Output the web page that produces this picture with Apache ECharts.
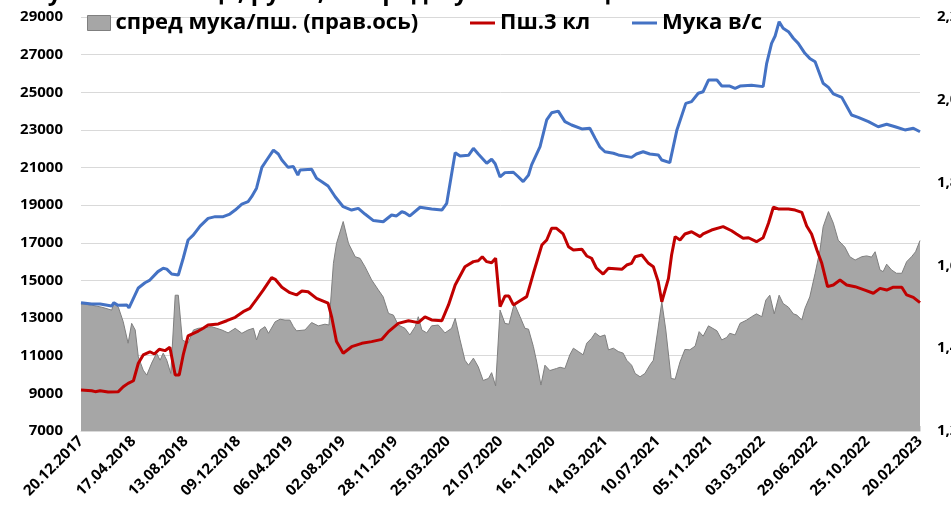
<!DOCTYPE html>
<html>
<head>
<meta charset="utf-8">
<script src="https://cdn.jsdelivr.net/npm/echarts@6/dist/echarts.min.js"></script>
<style>
  html, body { margin: 0; padding: 0; background: #fff; }
  #chart { width: 951px; height: 531px; }
</style>
</head>
<body>
<div id="chart"></div>
<script>
// x values are days since 20.12.2017
const flourDays = [0, 24, 43, 69, 74, 83, 103, 108, 129, 144, 155, 173, 185, 193, 204, 219, 230, 241, 253, 268,
  286, 302, 320, 335, 347, 362, 376, 384, 395, 407, 418, 433, 444, 452, 466, 478, 488, 493, 519, 530,
  542, 556, 572, 590, 609, 624, 639, 658, 680, 699, 710, 722, 729, 740, 763, 789, 812, 823, 842, 853,
  872, 883, 894, 913, 924, 932, 943, 954, 973, 984, 995, 1007, 1014, 1033, 1048, 1059, 1074, 1089, 1104, 1127,
  1145, 1157, 1168, 1179, 1198, 1209, 1239, 1250, 1265, 1280, 1299, 1307, 1325, 1341, 1361, 1374, 1389, 1400, 1412, 1431,
  1442, 1460, 1472, 1483, 1509, 1535, 1543, 1554, 1562, 1571, 1580, 1592, 1603, 1614, 1629, 1640, 1652, 1670, 1682, 1693,
  1712, 1734, 1749, 1772, 1794, 1813, 1832, 1854, 1873, 1888];
const flourPrice = [13820, 13750, 13750, 13640, 13820, 13680, 13700, 13540, 14600, 14880, 15020, 15470, 15650, 15600, 15340, 15290, 16180, 17150, 17420, 17890,
  18300, 18390, 18390, 18530, 18740, 19060, 19190, 19450, 19900, 21010, 21400, 21930, 21720, 21400, 21010, 21050, 20600, 20870, 20910, 20430,
  20250, 20020, 19450, 18920, 18740, 18830, 18530, 18180, 18120, 18480, 18430, 18650, 18600, 18430, 18890, 18800, 18740, 19100, 21790, 21610,
  21650, 22020, 21720, 21230, 21440, 21200, 20500, 20730, 20750, 20510, 20250, 20600, 21140, 22110, 23530, 23910, 24000, 23440, 23260, 23050,
  23090, 22550, 22080, 21840, 21760, 21670, 21540, 21720, 21840, 21720, 21670, 21400, 21260, 23000, 24410, 24500, 24950, 25030, 25650, 25650,
  25330, 25330, 25210, 25330, 25370, 25300, 26540, 27600, 27990, 28750, 28400, 28220, 27870, 27600, 27070, 26800, 26620, 25480, 25260, 24910,
  24730, 23790, 23670, 23440, 23170, 23300, 23170, 23000, 23090, 22900];

const wheatDays = [0, 24, 32, 43, 61, 84, 95, 106, 118, 129, 140, 155, 165, 176, 189, 200, 212, 221, 230, 241,
  253, 264, 275, 286, 309, 328, 347, 365, 380, 395, 410, 429, 437, 452, 470, 485, 497, 511, 530, 556,
  564, 575, 590, 609, 632, 654, 677, 692, 714, 737, 759, 774, 789, 812, 827, 842, 864, 883, 894, 903,
  913, 924, 933, 943, 954, 963, 973, 988, 1003, 1018, 1037, 1048, 1059, 1070, 1085, 1097, 1108, 1127, 1138, 1149,
  1160, 1175, 1187, 1217, 1228, 1239, 1247, 1262, 1277, 1288, 1299, 1307, 1322, 1329, 1337, 1348, 1359, 1374, 1393, 1400,
  1419, 1445, 1464, 1475, 1490, 1502, 1520, 1535, 1547, 1558, 1569, 1592, 1607, 1622, 1633, 1644, 1656, 1667, 1680, 1693,
  1708, 1723, 1742, 1764, 1783, 1798, 1813, 1828, 1847, 1858, 1873, 1888];
const wheatPrice = [9180, 9140, 9090, 9140, 9070, 9090, 9350, 9530, 9670, 10600, 11040, 11210, 11090, 11340, 11270, 11450, 9980, 9980, 11040, 12050,
  12190, 12310, 12460, 12630, 12690, 12860, 13040, 13340, 13520, 14000, 14490, 15150, 15060, 14640, 14350, 14230, 14440, 14400, 14050, 13790,
  13070, 11750, 11130, 11480, 11660, 11750, 11870, 12280, 12720, 12860, 12760, 13070, 12900, 12860, 13700, 14760, 15730, 16000, 16050, 16260,
  16000, 15940, 16180, 13610, 14170, 14170, 13700, 13920, 14140, 15380, 16880, 17150, 17770, 17770, 17470, 16790, 16620, 16660, 16300, 16180,
  15650, 15340, 15650, 15590, 15820, 15910, 16260, 16350, 15910, 15730, 14930, 13870, 15110, 16350, 17330, 17150, 17470, 17590, 17330, 17470,
  17680, 17860, 17640, 17470, 17240, 17270, 17060, 17270, 18040, 18890, 18800, 18800, 18740, 18620, 17890, 17470, 16620, 15910, 14670, 14760,
  15020, 14760, 14670, 14490, 14320, 14580, 14490, 14640, 14640, 14230, 14100, 13820];

const spreadDays = [0, 24, 47, 69, 74, 84, 95, 106, 114, 122, 129, 140, 148, 159, 170, 178, 185, 193, 202, 212,
  219, 228, 241, 253, 264, 279, 294, 317, 331, 347, 362, 376, 388, 395, 403, 414, 422, 437, 448, 459,
  470, 478, 485, 504, 519, 534, 549, 558, 568, 575, 590, 602, 617, 628, 639, 654, 669, 680, 692, 703,
  714, 729, 740, 752, 759, 767, 778, 789, 804, 819, 834, 842, 853, 864, 872, 883, 894, 905, 917, 924,
  933, 943, 954, 963, 975, 988, 999, 1007, 1018, 1026, 1035, 1044, 1055, 1070, 1078, 1089, 1100, 1108, 1119, 1130,
  1138, 1149, 1157, 1168, 1179, 1187, 1198, 1209, 1220, 1228, 1239, 1247, 1258, 1269, 1280, 1288, 1298, 1307, 1316, 1328,
  1337, 1348, 1359, 1370, 1382, 1391, 1400, 1412, 1431, 1442, 1453, 1460, 1472, 1483, 1498, 1509, 1520, 1532, 1541, 1550,
  1560, 1571, 1580, 1592, 1603, 1611, 1622, 1629, 1640, 1652, 1663, 1670, 1682, 1693, 1704, 1719, 1730, 1742, 1757, 1768,
  1779, 1787, 1798, 1805, 1813, 1824, 1835, 1847, 1858, 1869, 1878, 1888];
const spreadRatio = [1.507, 1.504, 1.499, 1.492, 1.508, 1.499, 1.464, 1.412, 1.460, 1.444, 1.379, 1.347, 1.335, 1.364, 1.388, 1.371, 1.388, 1.371, 1.339, 1.528,
  1.528, 1.420, 1.412, 1.444, 1.448, 1.450, 1.452, 1.444, 1.437, 1.448, 1.436, 1.444, 1.448, 1.420, 1.444, 1.452, 1.436, 1.464, 1.470, 1.468,
  1.468, 1.452, 1.442, 1.444, 1.462, 1.454, 1.458, 1.456, 1.605, 1.653, 1.706, 1.653, 1.621, 1.617, 1.597, 1.565, 1.541, 1.524, 1.484, 1.480,
  1.456, 1.448, 1.432, 1.452, 1.476, 1.444, 1.437, 1.454, 1.456, 1.437, 1.448, 1.472, 1.420, 1.371, 1.359, 1.376, 1.355, 1.322, 1.327, 1.341,
  1.309, 1.492, 1.460, 1.458, 1.508, 1.476, 1.448, 1.446, 1.404, 1.364, 1.311, 1.359, 1.346, 1.351, 1.354, 1.351, 1.384, 1.400, 1.392, 1.384,
  1.412, 1.424, 1.437, 1.428, 1.432, 1.396, 1.400, 1.392, 1.388, 1.371, 1.359, 1.339, 1.331, 1.339, 1.359, 1.371, 1.444, 1.512, 1.444, 1.327,
  1.325, 1.367, 1.397, 1.396, 1.405, 1.440, 1.429, 1.454, 1.442, 1.420, 1.426, 1.436, 1.432, 1.460, 1.468, 1.476, 1.483, 1.476, 1.516, 1.528,
  1.483, 1.528, 1.508, 1.499, 1.483, 1.480, 1.468, 1.496, 1.524, 1.581, 1.637, 1.693, 1.730, 1.702, 1.661, 1.644, 1.621, 1.613, 1.621, 1.623,
  1.620, 1.633, 1.589, 1.585, 1.603, 1.589, 1.581, 1.581, 1.609, 1.621, 1.633, 1.660];

const seriesNames = ['спред мука/пш. (прав.ось)', 'Пш.3 кл', 'Мука в/с'];
const titleText = 'Мука и пшеница, руб/т, и спред мука/пшеница';

const startDate = Date.UTC(2017, 11, 20);
function dayLabel(d) {
  const dt = new Date(startDate + d * 86400000);
  const dd = String(dt.getUTCDate()).padStart(2, '0');
  const mm = String(dt.getUTCMonth() + 1).padStart(2, '0');
  return dd + '.' + mm + '.' + dt.getUTCFullYear();
}
const pairs = (xs, ys) => xs.map((x, i) => [x, ys[i]]);

const font = 'Open Sans';
const labelStyle = { color: '#000', fontFamily: font, fontWeight: 'bold', fontSize: 15 };
const legendText = { color: '#000', fontFamily: font, fontWeight: 'bold', fontSize: 22 };

const chart = echarts.init(document.getElementById('chart'), null, { renderer: 'canvas' });

chart.setOption({
  animation: false,
  backgroundColor: '#fff',
  title: {
    text: titleText,
    left: 20,
    top: -24,
    textStyle: { color: '#000', fontFamily: font, fontWeight: 'bold', fontSize: 24 }
  },
  // labels on the right run off the canvas, as in the source picture
  grid: { left: 81, right: 31, top: 17, bottom: 100, outerBoundsMode: 'none' },
  legend: [
    {
      data: [seriesNames[0]], left: 87, top: 12, padding: 0, icon: 'rect',
      itemWidth: 23, itemHeight: 15, textStyle: legendText,
      itemStyle: { borderColor: '#7f7f7f', borderWidth: 1 }
    },
    {
      data: [seriesNames[1]], left: 470, top: 12, padding: 0, icon: 'rect',
      itemWidth: 25, itemHeight: 3, textStyle: legendText
    },
    {
      data: [seriesNames[2]], left: 632, top: 12, padding: 0, icon: 'rect',
      itemWidth: 25, itemHeight: 3, textStyle: legendText
    }
  ],
  xAxis: {
    type: 'value',
    min: 0,
    max: 1888,
    interval: 118,
    splitLine: { show: false },
    axisLine: { lineStyle: { color: '#d9d9d9', width: 1 } },
    axisTick: { inside: true, length: 5, lineStyle: { color: '#d9d9d9' } },
    minorTick: { show: true, splitNumber: 2, length: 5, lineStyle: { color: '#d9d9d9' } },
    axisLabel: Object.assign({ rotate: 45, margin: 8, formatter: dayLabel }, labelStyle)
  },
  yAxis: [
    {
      type: 'value',
      min: 7000,
      max: 29000,
      interval: 2000,
      axisLine: { show: false },
      axisTick: { show: false },
      splitLine: { lineStyle: { color: '#d9d9d9' } },
      axisLabel: Object.assign({ margin: 18, formatter: v => String(v) }, labelStyle)
    },
    {
      type: 'value',
      min: 1.2,
      max: 2.2,
      interval: 0.2,
      axisLine: { show: false },
      axisTick: { show: false },
      splitLine: { show: false },
      axisLabel: Object.assign({
        margin: 17,
        formatter: v => v.toFixed(1).replace('.', ',')
      }, labelStyle)
    }
  ],
  series: [
    {
      name: seriesNames[0],
      type: 'line',
      yAxisIndex: 1,
      data: pairs(spreadDays, spreadRatio),
      symbol: 'none',
      lineStyle: { color: '#7f7f7f', width: 1 },
      itemStyle: { color: '#a6a6a6' },
      areaStyle: { color: '#a6a6a6', opacity: 1, origin: 'start' },
      z: 1
    },
    {
      name: seriesNames[1],
      type: 'line',
      data: pairs(wheatDays, wheatPrice),
      symbol: 'none',
      lineStyle: { color: '#c00000', width: 3 },
      itemStyle: { color: '#c00000' },
      z: 3
    },
    {
      name: seriesNames[2],
      type: 'line',
      data: pairs(flourDays, flourPrice),
      symbol: 'none',
      lineStyle: { color: '#4472c4', width: 3 },
      itemStyle: { color: '#4472c4' },
      z: 4
    }
  ]
});
</script>
</body>
</html>
